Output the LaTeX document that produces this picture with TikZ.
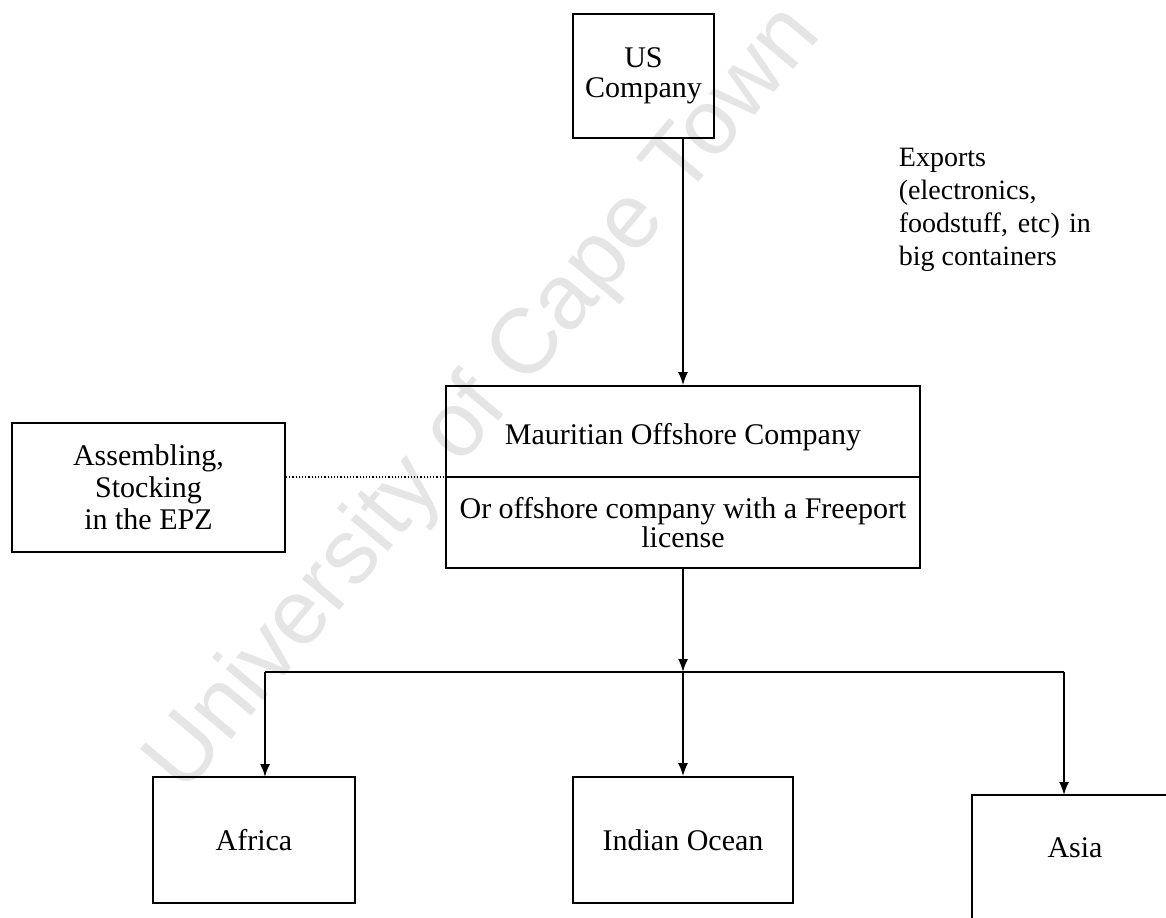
\documentclass[tikz,border=0pt]{standalone}
\usepackage{fontspec}
\setmainfont{Liberation Serif}
\newfontfamily\marksans{Liberation Sans}
\usetikzlibrary{arrows.meta}

\begin{document}
\begin{tikzpicture}[x=0.5pt, y=-0.5pt, line width=0.9pt, >={Latex[length=6.5pt,width=5pt]},
  box/.style = {draw, inner sep=0pt, align=center, font=\fontsize{15}{15}\selectfont},
  txt/.style = {inner sep=0pt, align=center, font=\fontsize{15}{14.5}\selectfont}]
\useasboundingbox (0,0) rectangle (1166,917);
\clip (0,0) rectangle (1166,917);
%\node[style] (name) at (x,y) {text}; -- x,y in pixels of the page
\node[rotate=50, text=black!10, font=\marksans\fontsize{46}{46}\selectfont] (mark) at (485,400) {University of Cape Town};
\node[box, minimum width=70.5pt, minimum height=62pt] (us) at (643.5,76) {US\\Company};
\node[txt, anchor=north west, align=left, font=\fontsize{14}{16.5}\selectfont] (exports) at (898,147) {Exports\\(electronics,\\\makebox[96pt][s]{foodstuff, etc) in}\\big containers};
\node[box, minimum width=237pt, minimum height=91pt] (mau) at (683,477) {};
\node[txt] (mautop) at (683,437) {Mauritian Offshore Company};
\node[txt] (maubot) at (683,523) {Or offshore company with a Freeport\\license};
\node[box, minimum width=136.5pt, minimum height=64.5pt, font=\fontsize{15}{16}\selectfont] (epz) at (148.5,487.5) {Assembling,\\Stocking\\in the EPZ};
\node[box, minimum width=101pt, minimum height=63pt] (africa) at (254,840) {Africa};
\node[box, minimum width=110pt, minimum height=63pt] (indian) at (683,840) {Indian Ocean};
\node[box, minimum width=103pt, minimum height=65pt, label={[txt, yshift=6pt]center:Asia}] (asia) at (1075,860) {};
\coordinate (split) at (683,672);
\coordinate (afin) at (265,777);
\coordinate (asiain) at (1064,795);
\draw (mau.west) -- (mau.east);
\draw[densely dotted, line width=0.6pt] (epz.east |- mau.west) -- (mau.west);
\draw[->] (us.south -| mau.north) -- (mau.north);
\draw[->] (mau.south) -- (split);
\draw (afin |- split) -- (asiain |- split);
\draw[->] (afin |- split) -- (afin);
\draw[->] (split) -- (indian.north);
\draw[->] (asiain |- split) -- (asiain);
\end{tikzpicture}
\end{document}
